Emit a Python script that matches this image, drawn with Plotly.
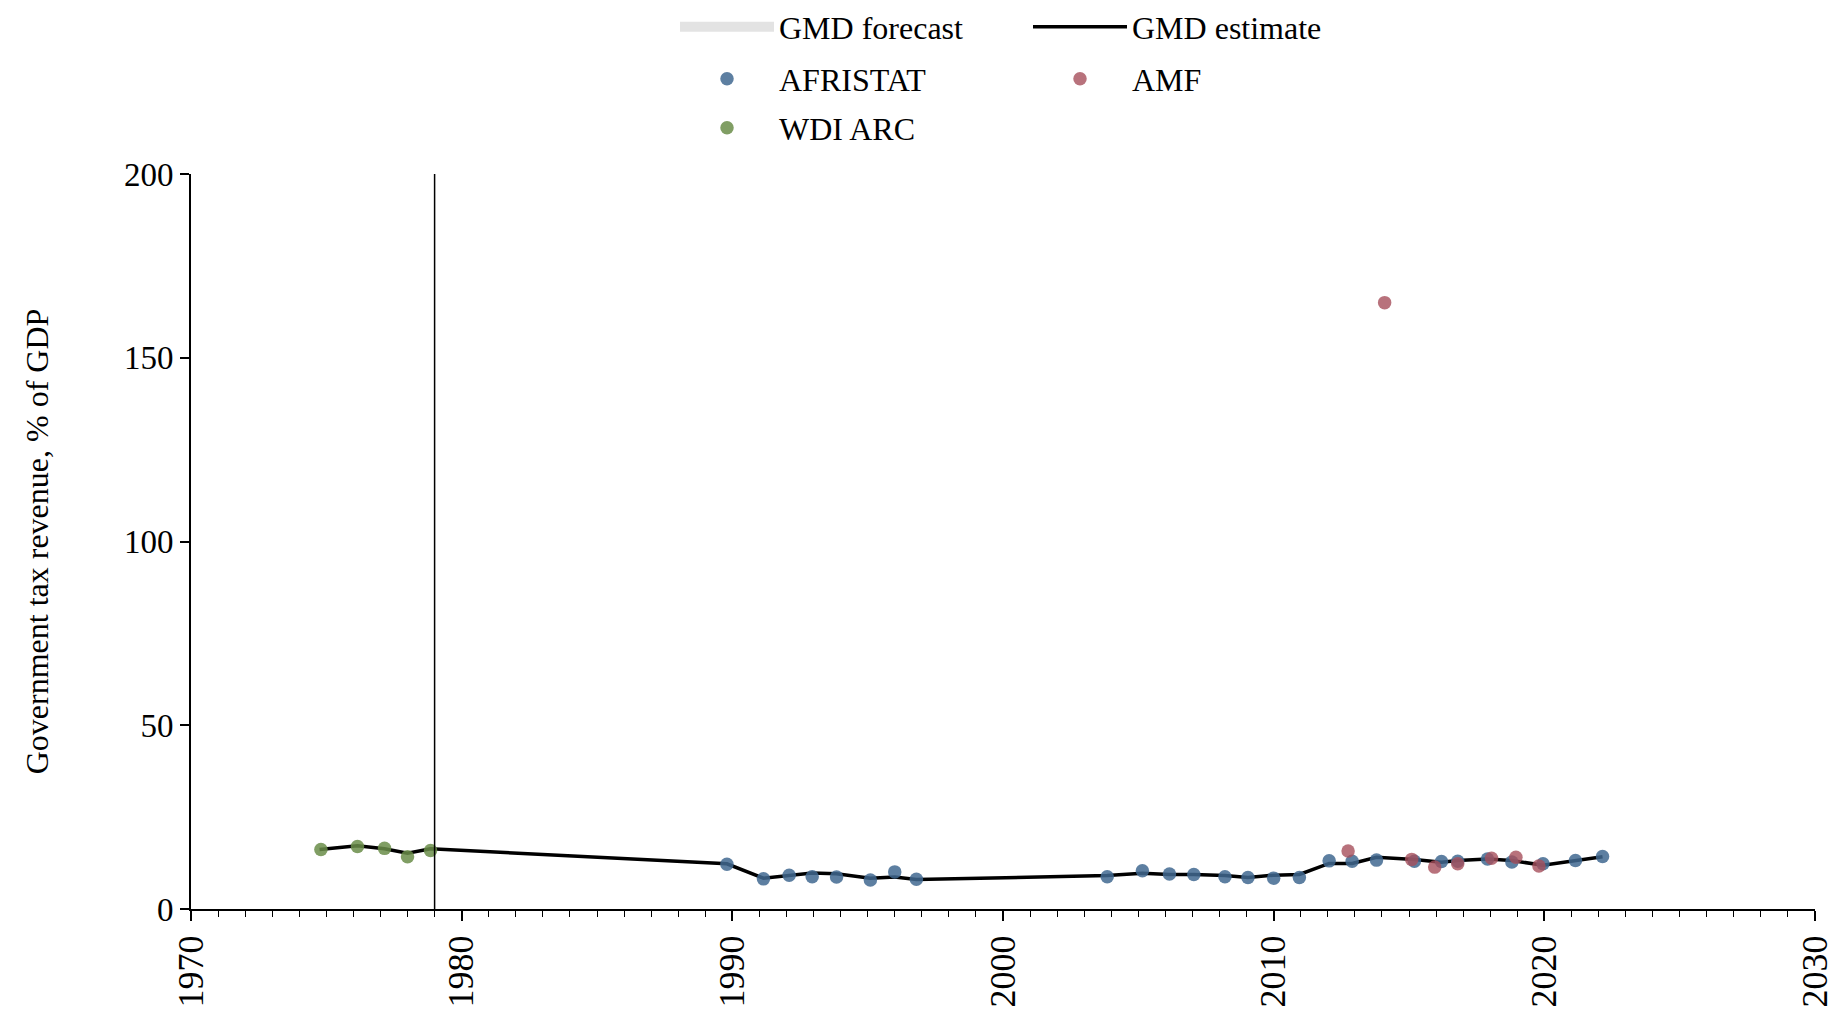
import plotly.graph_objects as go

# ---- data ----
wdi_years = [1974.8, 1976.15, 1977.15, 1978.0, 1978.85]
wdi_vals = [16.2, 17.0, 16.5, 14.2, 15.9]

afristat_years = [1989.8, 1991.15, 1992.1, 1992.95, 1993.85, 1995.1, 1996.0, 1996.8,
                  2003.85, 2005.15, 2006.15, 2007.05, 2008.2, 2009.05, 2010.0, 2010.95,
                  2012.05, 2012.9, 2013.8, 2015.2, 2016.2, 2016.8, 2017.9, 2018.8,
                  2019.95, 2021.15, 2022.15]
afristat_vals = [12.2, 8.2, 9.2, 8.8, 8.7, 7.9, 10.1, 8.1,
                 8.8, 10.4, 9.5, 9.4, 8.8, 8.6, 8.4, 8.6,
                 13.1, 13.0, 13.3, 13.0, 12.9, 13.0, 13.6, 12.8,
                 12.3, 13.2, 14.3]

amf_years = [2012.75, 2014.1, 2015.1, 2015.95, 2016.8, 2018.05, 2018.95, 2019.8]
amf_vals = [15.8, 165.0, 13.5, 11.4, 12.3, 13.8, 14.1, 11.7]

gmd_years = [1974.75, 1976.15, 1977.15, 1978.0, 1978.85, 1989.8, 1991.15, 1992.1,
             1992.95, 1993.85, 1995.1, 1996.0, 1996.8, 2003.85, 2005.15, 2006.15,
             2007.05, 2008.2, 2009.05, 2010.0, 2010.95, 2012.05, 2012.9, 2013.8,
             2015.2, 2016.2, 2016.8, 2017.9, 2018.8, 2019.95, 2021.15, 2022.15]
gmd_vals = [16.2, 17.2, 16.4, 15.2, 16.4, 12.3, 8.4, 9.2,
            9.8, 9.6, 8.4, 8.7, 8.0, 9.1, 9.7, 9.4,
            9.4, 9.1, 8.6, 9.2, 9.4, 12.4, 12.4, 14.1,
            13.5, 12.7, 13.2, 13.6, 13.2, 11.9, 13.2, 14.2]

vline_year = 1979
y_ticks = [0, 50, 100, 150, 200]
x_ticks = [1970, 1980, 1990, 2000, 2010, 2020, 2030]

FONT = "Liberation Serif, Times New Roman, serif"
W, H = 1832, 998  # page adds an 8px body margin at the left/top of the figure

fig = go.Figure()

# GMD forecast (legend-only swatch; no forecast period in the data)
fig.add_trace(go.Scatter(x=[None], y=[None], mode="lines",
                         line=dict(width=41, color="#e3e3e3"),
                         name="GMD forecast", legend="legend"))
# GMD estimate line
fig.add_trace(go.Scatter(x=gmd_years, y=gmd_vals, mode="lines",
                         line=dict(color="black", width=3.5),
                         name="GMD estimate", legend="legend"))
# sources
fig.add_trace(go.Scatter(x=afristat_years, y=afristat_vals, mode="markers",
                         marker=dict(size=13.5, color="#416890", opacity=0.85, line=dict(width=0)),
                         name="AFRISTAT", legend="legend2"))
fig.add_trace(go.Scatter(x=amf_years, y=amf_vals, mode="markers",
                         marker=dict(size=13.5, color="#a64f5b", opacity=0.8, line=dict(width=0)),
                         name="AMF", legend="legend2"))
fig.add_trace(go.Scatter(x=wdi_years, y=wdi_vals, mode="markers",
                         marker=dict(size=13.5, color="#6a8d49", opacity=0.85, line=dict(width=0)),
                         name="WDI ARC", legend="legend3"))

fig.add_shape(type="line", x0=vline_year, x1=vline_year, y0=0, y1=200,
              xref="x", yref="y", line=dict(color="black", width=1.5))

leg_common = dict(orientation="h", xanchor="left", yanchor="middle",
                  xref="container", yref="container",
                  x=(675 - 8) / W, entrywidth=244, entrywidthmode="pixels", itemwidth=94,
                  font=dict(family=FONT, size=32, color="black"),
                  bgcolor="rgba(0,0,0,0)", borderwidth=0, traceorder="normal")

fig.update_layout(
    template="none",
    width=W, height=H,
    margin=dict(l=183, r=25, t=166, b=97, autoexpand=False),
    paper_bgcolor="white", plot_bgcolor="white",
    font=dict(family=FONT, size=32, color="black"),
    showlegend=True,
    legend=dict(**leg_common, y=1 - (27 - 8) / H),
    legend2=dict(**leg_common, y=1 - (79 - 8) / H),
    legend3=dict(**leg_common, y=1 - (128 - 8) / H),
    xaxis=dict(range=[1970, 2030], tickvals=x_ticks, ticktext=[str(v) for v in x_ticks],
               tickangle=-90, ticks="outside", ticklen=10, tickwidth=1.5, tickcolor="black",
               showline=True, linecolor="black", linewidth=2, showgrid=False, zeroline=False,
               automargin=False, ticklabeloverflow="allow",
               tickfont=dict(family=FONT, size=36),
               minor=dict(dtick=1, tick0=1970, ticks="outside", ticklen=6, tickwidth=1.2,
                          tickcolor="black", showgrid=False)),
    yaxis=dict(range=[0, 200], tickvals=y_ticks, ticks="outside", ticklen=9, tickwidth=1.5,
               tickcolor="black", showline=True, linecolor="black", linewidth=2,
               showgrid=False, zeroline=False, automargin=False,
               tickfont=dict(family=FONT, size=33),
               title=dict(text="Government tax revenue, % of GDP",
                          font=dict(family=FONT, size=32), standoff=66)),
)

fig.write_html("out.html")
